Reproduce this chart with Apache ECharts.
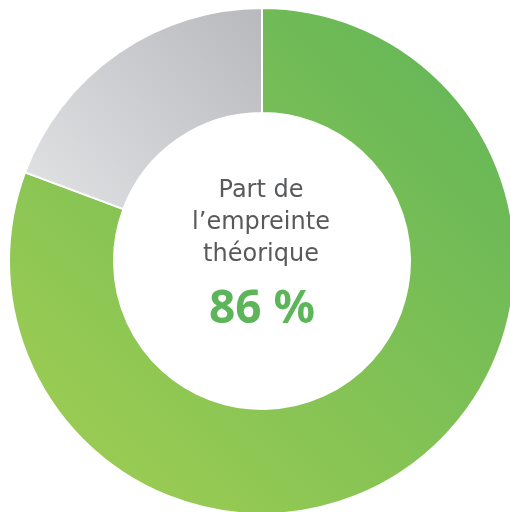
<!DOCTYPE html>
<html>
<head>
<meta charset="utf-8">
<script src="https://cdn.jsdelivr.net/npm/echarts@6/dist/echarts.min.js"></script>
<style>
  html, body { margin: 0; padding: 0; background: #fff; }
  #chart { width: 510px; height: 512px; }
</style>
</head>
<body>
<div id="chart"></div>
<script>
// parts of the ring
var names = ['Empreinte théorique', 'Reste'];
var values = [80.7, 19.3];
var centerText = 'Part de\nl\u2019empreinte\nthéorique';
var bigValue = '86 %';

var grad = function(c1, c2){
  return new echarts.graphic.LinearGradient(0, 1, 1, 0, [
    { offset: 0, color: c1 },
    { offset: 1, color: c2 }
  ]);
};
var colors = [grad('#a3cf52', '#5fb458'), grad('#e2e3e5', '#b8b9bd')];

var data = [];
for (var i = 0; i < values.length; i++) {
  data.push({ name: names[i], value: values[i], itemStyle: { color: colors[i] } });
}

var myChart = echarts.init(document.getElementById('chart'));
myChart.setOption({
  animation: false,
  graphic: [
    {
      type: 'text', x: 261, y: 175,
      style: {
        text: centerText, fill: '#58595b',
        fontFamily: 'DejaVu Sans', fontSize: 24, lineHeight: 32,
        textAlign: 'center', textVerticalAlign: 'top'
      }
    },
    {
      type: 'text', x: 262, y: 287,
      style: {
        text: bigValue, fill: '#5db55a',
        fontFamily: 'Noto Sans', fontSize: 46, fontWeight: 'bold',
        textAlign: 'center', textVerticalAlign: 'top'
      }
    }
  ],
  series: [{
    type: 'pie',
    center: [262, 261],
    radius: [148, 253],
    startAngle: 90,
    label: { show: false },
    labelLine: { show: false },
    itemStyle: { borderColor: '#fff', borderWidth: 2 },
    data: data
  }]
});
</script>
</body>
</html>
